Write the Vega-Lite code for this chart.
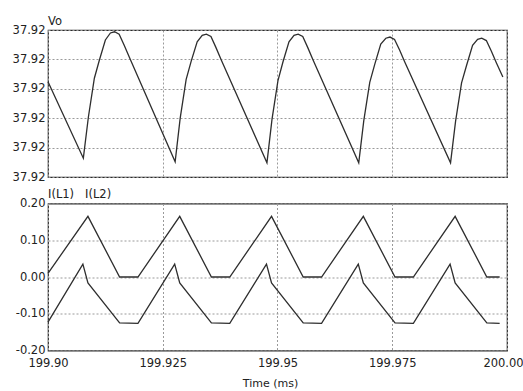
{
  "$schema": "https://vega.github.io/schema/vega-lite/v6.json",
  "background": "white",
  "padding": {"left": 11, "top": 14, "right": 0, "bottom": 0},
  "spacing": 3.5,
  "datasets": {
    "vo": [
      {"t": 199.9000, "v": 37.92112},
      {"t": 199.9077, "v": 37.91982},
      {"t": 199.9088, "v": 37.92052},
      {"t": 199.9101, "v": 37.92118},
      {"t": 199.9112, "v": 37.92149},
      {"t": 199.9125, "v": 37.92183},
      {"t": 199.9136, "v": 37.92195},
      {"t": 199.9145, "v": 37.92197},
      {"t": 199.9155, "v": 37.92193},
      {"t": 199.9166, "v": 37.92174},
      {"t": 199.9177, "v": 37.92154},
      {"t": 199.9277, "v": 37.91976},
      {"t": 199.9288, "v": 37.92050},
      {"t": 199.9301, "v": 37.92116},
      {"t": 199.9312, "v": 37.92147},
      {"t": 199.9325, "v": 37.92180},
      {"t": 199.9336, "v": 37.92191},
      {"t": 199.9345, "v": 37.92193},
      {"t": 199.9355, "v": 37.92189},
      {"t": 199.9366, "v": 37.92170},
      {"t": 199.9377, "v": 37.92150},
      {"t": 199.9477, "v": 37.91974},
      {"t": 199.9488, "v": 37.92048},
      {"t": 199.9501, "v": 37.92114},
      {"t": 199.9512, "v": 37.92146},
      {"t": 199.9525, "v": 37.92180},
      {"t": 199.9536, "v": 37.92191},
      {"t": 199.9545, "v": 37.92193},
      {"t": 199.9555, "v": 37.92189},
      {"t": 199.9566, "v": 37.92170},
      {"t": 199.9577, "v": 37.92150},
      {"t": 199.9677, "v": 37.91974},
      {"t": 199.9688, "v": 37.92046},
      {"t": 199.9701, "v": 37.92111},
      {"t": 199.9712, "v": 37.92142},
      {"t": 199.9725, "v": 37.92176},
      {"t": 199.9736, "v": 37.92186},
      {"t": 199.9745, "v": 37.92188},
      {"t": 199.9755, "v": 37.92184},
      {"t": 199.9766, "v": 37.92166},
      {"t": 199.9777, "v": 37.92146},
      {"t": 199.9877, "v": 37.91974},
      {"t": 199.9888, "v": 37.92045},
      {"t": 199.9901, "v": 37.92110},
      {"t": 199.9912, "v": 37.92140},
      {"t": 199.9925, "v": 37.92174},
      {"t": 199.9936, "v": 37.92184},
      {"t": 199.9945, "v": 37.92186},
      {"t": 199.9955, "v": 37.92182},
      {"t": 199.9966, "v": 37.92164},
      {"t": 199.9977, "v": 37.92144},
      {"t": 199.9991, "v": 37.92120}
    ],
    "currents": [
      {"series": "I(L1)", "t": 199.9000, "i": 0.010},
      {"series": "I(L1)", "t": 199.9087, "i": 0.165},
      {"series": "I(L1)", "t": 199.9156, "i": 0.000},
      {"series": "I(L1)", "t": 199.9196, "i": 0.000},
      {"series": "I(L1)", "t": 199.9287, "i": 0.165},
      {"series": "I(L1)", "t": 199.9356, "i": 0.000},
      {"series": "I(L1)", "t": 199.9396, "i": 0.000},
      {"series": "I(L1)", "t": 199.9487, "i": 0.165},
      {"series": "I(L1)", "t": 199.9556, "i": 0.000},
      {"series": "I(L1)", "t": 199.9596, "i": 0.000},
      {"series": "I(L1)", "t": 199.9687, "i": 0.165},
      {"series": "I(L1)", "t": 199.9756, "i": 0.000},
      {"series": "I(L1)", "t": 199.9796, "i": 0.000},
      {"series": "I(L1)", "t": 199.9887, "i": 0.165},
      {"series": "I(L1)", "t": 199.9956, "i": 0.000},
      {"series": "I(L1)", "t": 199.9984, "i": 0.000},
      {"series": "I(L2)", "t": 199.9000, "i": -0.123},
      {"series": "I(L2)", "t": 199.9076, "i": 0.035},
      {"series": "I(L2)", "t": 199.9087, "i": -0.016},
      {"series": "I(L2)", "t": 199.9156, "i": -0.125},
      {"series": "I(L2)", "t": 199.9196, "i": -0.126},
      {"series": "I(L2)", "t": 199.9276, "i": 0.035},
      {"series": "I(L2)", "t": 199.9287, "i": -0.016},
      {"series": "I(L2)", "t": 199.9356, "i": -0.125},
      {"series": "I(L2)", "t": 199.9396, "i": -0.126},
      {"series": "I(L2)", "t": 199.9476, "i": 0.035},
      {"series": "I(L2)", "t": 199.9487, "i": -0.016},
      {"series": "I(L2)", "t": 199.9556, "i": -0.125},
      {"series": "I(L2)", "t": 199.9596, "i": -0.126},
      {"series": "I(L2)", "t": 199.9676, "i": 0.035},
      {"series": "I(L2)", "t": 199.9687, "i": -0.016},
      {"series": "I(L2)", "t": 199.9756, "i": -0.125},
      {"series": "I(L2)", "t": 199.9796, "i": -0.126},
      {"series": "I(L2)", "t": 199.9876, "i": 0.035},
      {"series": "I(L2)", "t": 199.9887, "i": -0.016},
      {"series": "I(L2)", "t": 199.9956, "i": -0.125},
      {"series": "I(L2)", "t": 199.9984, "i": -0.126}
    ]
  },
  "config": {
    "font": "DejaVu Sans",
    "view": {"stroke": "#2a2a2a", "strokeWidth": 1.2},
    "axis": {
      "grid": true,
      "gridColor": "#9a9a9a",
      "gridDash": [2, 2],
      "gridWidth": 1,
      "ticks": false,
      "domain": false,
      "labelFont": "DejaVu Sans",
      "labelFontSize": 11.5,
      "labelColor": "#222",
      "titleFont": "DejaVu Sans",
      "titleFontWeight": "normal",
      "titleColor": "#222"
    },
    "title": {
      "anchor": "start",
      "frame": "group",
      "font": "DejaVu Sans",
      "fontSize": 11.5,
      "fontWeight": "normal",
      "color": "#222",
      "offset": -3
    },
    "line": {"color": "#2e2e2e", "strokeWidth": 1.3}
  },
  "vconcat": [
    {
      "title": "Vo",
      "width": 459,
      "height": 147,
      "data": {"name": "vo"},
      "mark": {"type": "line"},
      "encoding": {
        "x": {
          "field": "t",
          "type": "quantitative",
          "scale": {"domain": [199.9, 200.0], "nice": false, "zero": false},
          "axis": {
            "values": [199.9, 199.925, 199.95, 199.975, 200.0],
            "labels": false,
            "labelPadding": 0,
            "minExtent": 0,
            "maxExtent": 0,
            "title": null
          }
        },
        "y": {
          "field": "v",
          "type": "quantitative",
          "scale": {"domain": [37.9195, 37.922], "nice": false, "zero": false},
          "axis": {
            "values": [37.9195, 37.92, 37.9205, 37.921, 37.9215, 37.922],
            "format": ".2f",
            "labelPadding": 3,
            "title": null
          }
        }
      }
    },
    {
      "title": "I(L1)\u00a0\u00a0\u00a0I(L2)",
      "width": 459,
      "height": 147,
      "data": {"name": "currents"},
      "mark": {"type": "line"},
      "encoding": {
        "x": {
          "field": "t",
          "type": "quantitative",
          "scale": {"domain": [199.9, 200.0], "nice": false, "zero": false},
          "axis": {
            "values": [199.9, 199.925, 199.95, 199.975, 200.0],
            "labelExpr": "format(datum.value, abs(datum.value * 100 - round(datum.value * 100)) > 0.01 ? '.3f' : '.2f')",
            "labelPadding": 7,
            "labelFlush": false,
            "labelOffset": {"condition": {"test": "datum.value >= 200", "value": -4}, "value": 0},
            "title": "Time  (ms)",
            "titleFontSize": 11,
            "titlePadding": 8,
            "titleX": 222
          }
        },
        "y": {
          "field": "i",
          "type": "quantitative",
          "scale": {"domain": [-0.2, 0.2], "nice": false, "zero": false},
          "axis": {
            "values": [-0.2, -0.1, 0, 0.1, 0.2],
            "labelExpr": "replace(format(datum.value, '.2f'), '\u2212', '-')",
            "labelPadding": 3,
            "title": null
          }
        },
        "detail": {"field": "series", "type": "nominal"}
      }
    }
  ]
}
